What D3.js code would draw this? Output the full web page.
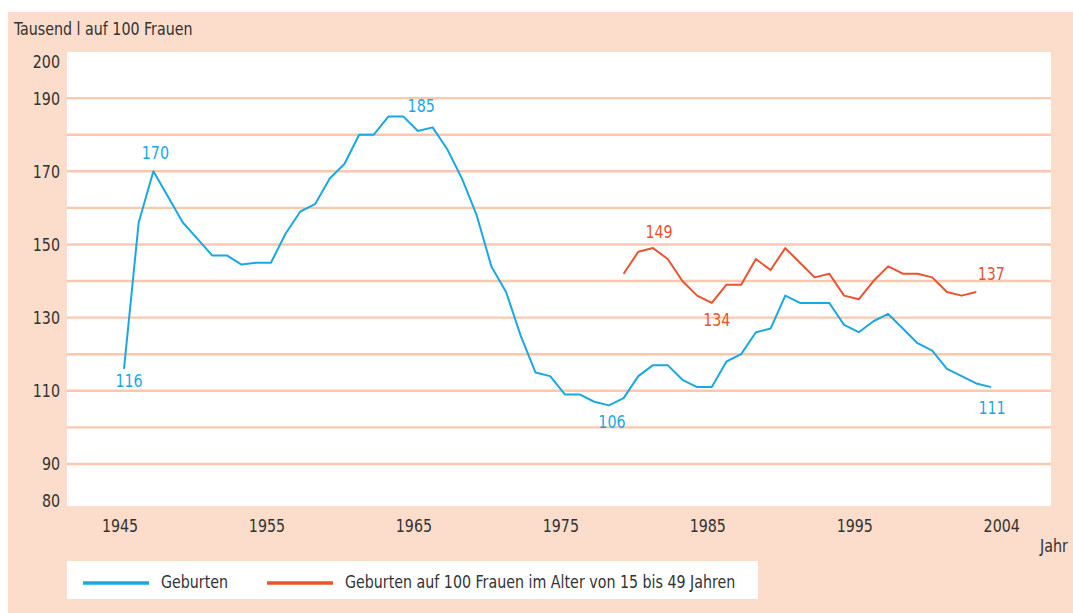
<!DOCTYPE html>
<html>
<head>
<meta charset="utf-8">
<script src="https://cdn.jsdelivr.net/npm/d3@7"></script>
<style>
  body { margin: 0; background: #fff; }
  svg text { font-family: "Liberation Sans Narrow", "DejaVu Sans Condensed", "Noto Sans", sans-serif; font-stretch: condensed; font-size: 18px; }
</style>
</head>
<body>
<div id="graph"></div>
<script>
const fullwidth = 1073;
const fullheight = 613;

// Geburten in Tausend, 1945-2004
const birthYears = d3.range(1945, 2005);
const births = [116, 156, 170, 163, 156, 151.5, 147, 147, 144.5, 145,
  145, 153, 159, 161, 168, 172, 180, 180, 185, 185,
  181, 182, 176, 168, 158, 144, 137, 125, 115, 114,
  109, 109, 107, 106, 108, 114, 117, 117, 113, 111,
  111, 118, 120, 126, 127, 136, 134, 134, 134, 128,
  126, 129, 131, 127, 123, 121, 116, 114, 112, 111];

// Geburten auf 100 Frauen im Alter von 15 bis 49 Jahren, 1979-2003
const rateYears = d3.range(1979, 2004);
const rates = [142, 148, 149, 146, 140, 136, 134, 139, 139, 146,
  143, 149, 145, 141, 142, 136, 135, 140, 144, 142,
  142, 141, 137, 136, 137];

const yTickValues = [200, 190, 170, 150, 130, 110, 90, 80];
const gridValues = [190, 180, 170, 160, 150, 140, 130, 120, 110, 100, 90];
const xTickYears = [1945, 1955, 1965, 1975, 1985, 1995, 2005];
const xTickLabels = ["1945", "1955", "1965", "1975", "1985", "1995", "2004"];

const seriesNames = ["Geburten", "Geburten auf 100 Frauen im Alter von 15 bis 49 Jahren"];
const seriesColors = ["#1aa8e2", "#e9532d"];

// labelled points: series index, year
const labelSeries = [0, 0, 0, 0, 0, 1, 1, 1];
const labelYears = [1945, 1947, 1964, 1978, 2004, 1981, 1985, 2003];
const labelOffsets = [[5, 18], [2, -12], [18, -4], [3, 23], [1, 27], [6, -10], [5, 23], [15, -12]];

const plot = {left: 67, right: 1051, top: 52, bottom: 506};
const squeeze = 0.88; // narrow the glyphs like the condensed original

var x = d3.scaleLinear().domain([1945, 2004]).range([124, 991]);
var y = d3.scaleLinear().domain([78.5, 202.6]).range([plot.bottom, plot.top]);

function place(sel, fx, fy) {
  sel.attr("transform", (d, i) => "translate(" + fx(d, i) + "," + fy(d, i) + ") scale(" + squeeze + ",1)");
}

var svg = d3.select("#graph").
append("svg").
attr("width", fullwidth).
attr("height", fullheight);

// peach panel and white plot area
svg.append("rect").
attr("x", 8).
attr("y", 12).
attr("width", fullwidth - 8).
attr("height", fullheight - 12).
attr("fill", "#fcdcca");

svg.append("rect").
attr("x", plot.left).
attr("y", plot.top).
attr("width", plot.right - plot.left).
attr("height", plot.bottom - plot.top).
attr("fill", "#fff");

svg.selectAll("line.grid").
data(gridValues).
enter().
append("line").
attr("class", "grid").
attr("x1", plot.left).
attr("x2", plot.right).
attr("y1", d => y(d)).
attr("y2", d => y(d)).
attr("stroke", "#fcc8ad").
attr("stroke-width", 2.4);

svg.append("text").
attr("fill", "#333").
call(place, () => 14, () => 35).
text("Tausend l auf 100 Frauen");

// y axis labels
svg.selectAll("text.ytick").
data(yTickValues).
enter().
append("text").
attr("class", "ytick").
attr("text-anchor", "end").
attr("fill", "#333").
call(place, () => 60, d => y(d) + 6.5).
text(d => d);

// x axis labels
svg.selectAll("text.xtick").
data(xTickYears).
enter().
append("text").
attr("class", "xtick").
attr("text-anchor", "middle").
attr("fill", "#333").
call(place, d => x(d) - 4, () => 532).
text((d, i) => xTickLabels[i]);

svg.append("text").
attr("fill", "#333").
call(place, () => 1040, () => 552).
text("Jahr");

var line = d3.line().
x(d => x(d[0])).
y(d => y(d[1]));

var seriesData = [
  d3.zip(birthYears, births),
  d3.zip(rateYears, rates)
];

svg.selectAll("path.series").
data(seriesData).
enter().
append("path").
attr("class", "series").
attr("fill", "none").
attr("stroke", (d, i) => seriesColors[i]).
attr("stroke-width", 2).
attr("stroke-linejoin", "round").
attr("d", line);

// value labels
function labelPoint(d, i) {
  return seriesData[labelSeries[i]].find(p => p[0] == d);
}

svg.selectAll("text.vlabel").
data(labelYears).
enter().
append("text").
attr("class", "vlabel").
attr("text-anchor", "middle").
attr("fill", (d, i) => seriesColors[labelSeries[i]]).
call(place, (d, i) => x(d) + labelOffsets[i][0], (d, i) => y(labelPoint(d, i)[1]) + labelOffsets[i][1]).
text((d, i) => labelPoint(d, i)[1]);

// legend
var legend = svg.append("g").attr("class", "legend");
legend.append("rect").
attr("x", plot.left).
attr("y", 561).
attr("width", 691).
attr("height", 38).
attr("fill", "#fff");

var legendX = [83, 267];
legend.selectAll("line").
data(seriesNames).
enter().
append("line").
attr("x1", (d, i) => legendX[i]).
attr("x2", (d, i) => legendX[i] + 66).
attr("y1", 583).
attr("y2", 583).
attr("stroke", (d, i) => seriesColors[i]).
attr("stroke-width", 3.5);

legend.selectAll("text").
data(seriesNames).
enter().
append("text").
attr("fill", "#333").
call(place, (d, i) => legendX[i] + 78, () => 588).
text(d => d);
</script>
</body>
</html>
